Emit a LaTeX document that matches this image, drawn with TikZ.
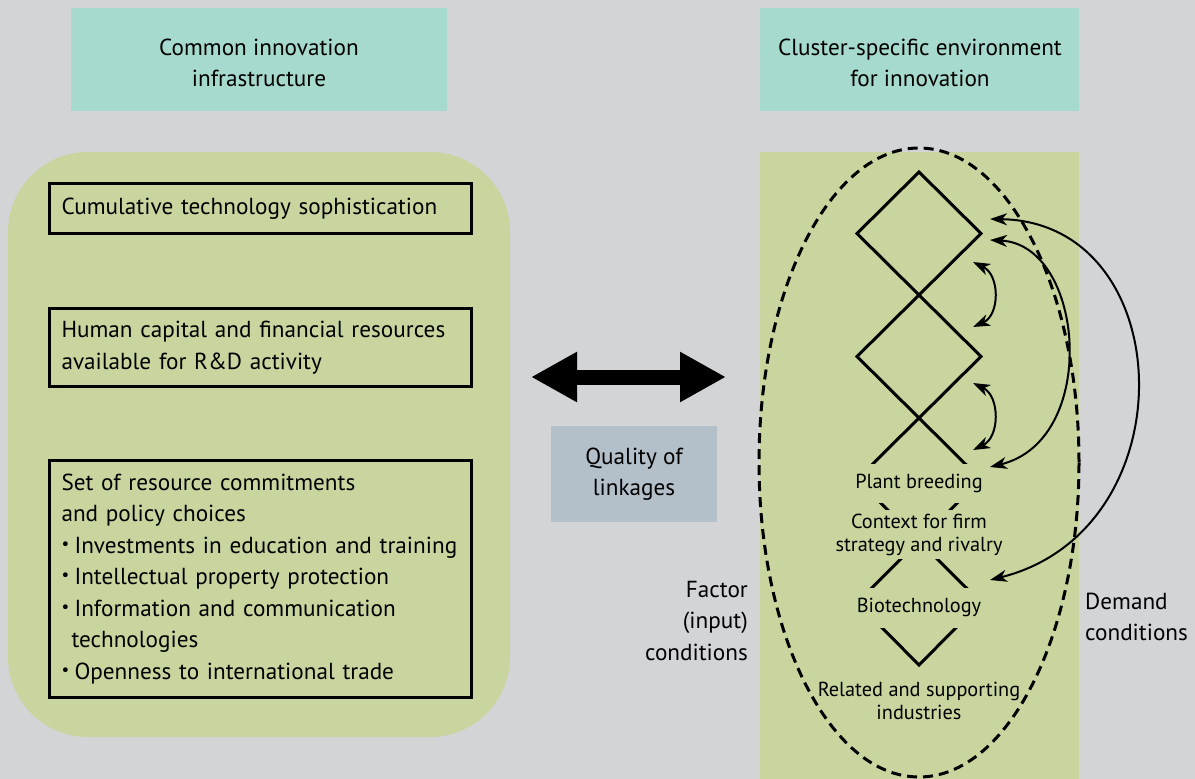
\documentclass[tikz,border=0pt]{standalone}
\usepackage{fontspec}
\setmainfont{PT Sans}
\usetikzlibrary{arrows.meta}

\definecolor{bggray}{RGB}{211,212,214}
\definecolor{leafgreen}{RGB}{200,213,158}
\definecolor{headteal}{RGB}{167,218,206}
\definecolor{linkgray}{RGB}{179,192,202}

\hyphenpenalty=10000
\exhyphenpenalty=10000
\newcommand{\dotitem}{\makebox[13pt][l]{\raisebox{4pt}{\fontsize{17}{17}\selectfont\textbullet}}}

\tikzset{
  factorbox/.style={draw, line width=3pt, anchor=north west, minimum width=422pt, text width=398pt, inner xsep=12pt, align=left},
  porter/.style={fill=leafgreen, inner xsep=4pt, inner ysep=0pt, align=center, font=\fontsize{20.3}{23}\selectfont},
  twoway/.style={line width=2pt, {Stealth[length=17pt,width=12pt,inset=5pt]}-{Stealth[length=17pt,width=12pt,inset=5pt]}}
}

\begin{document}
\begin{tikzpicture}[x=1pt, y=-1pt, every node/.style={font=\fontsize{23.2}{31.5}\selectfont}]
        % background
        \fill[bggray] (0, 0) rectangle (1195, 779);
        \useasboundingbox (0, 0) rectangle (1195, 779);
        % two headings
        \fill[headteal] (71, 8) rectangle (447, 111);
        \fill[headteal] (760, 8) rectangle (1079, 111);
        \node[align=center] (common) at (259, 63) {Common innovation\\infrastructure};
        \node[align=center] (cluster) at (920, 63) {Cluster-specific environment\\for innovation};
        % left panel
        \fill[leafgreen, rounded corners=80pt] (8, 152) rectangle (510, 737);
        \node[factorbox, minimum height=50pt] (cumul) at (48, 182) {Cumulative technology sophistication};
        \node[factorbox, minimum height=78pt] (human) at (48, 307) {Human capital and financial resources\\available for R\&D activity};
        \node[factorbox, minimum height=237pt] (policy) at (48, 459) {Set of resource commitments\\and policy choices\\
          \dotitem Investments in education and training\\
          \dotitem Intellectual property protection\\
          \dotitem Information and communication\\
          \hspace*{10pt}technologies\\
          \dotitem Openness to international trade};
        % right panel
        \fill[leafgreen] (760, 152) rectangle (1079, 779);
        % chain of diamonds
        \draw[line width=3pt] (919, 172) -- (857, 233.5) -- (919, 295) -- (981, 233.5) -- cycle;
        \draw[line width=3pt] (919, 295) -- (857, 356.5) -- (919, 418) -- (981, 356.5) -- cycle;
        \draw[line width=3pt] (919, 418) -- (857, 479.5) -- (919, 541) -- (981, 479.5) -- cycle;
        \draw[line width=3pt] (919, 541) -- (857, 602.5) -- (919, 665) -- (981, 602.5) -- cycle;
        % labels on the chain
        \node[porter, minimum height=39pt] (plant) at (919, 483.5) {Plant breeding};
        \node[porter, minimum height=49pt] (context) at (919, 534.5) {Context for firm\\strategy and rivalry};
        \node[porter, minimum height=40pt] (biotech) at (919, 607.5) {Biotechnology};
        \node[porter] (related) at (919, 701) {Related and supporting\\industries};
        % dashed cluster outline
        \draw[line width=3pt, dash pattern=on 10pt off 6pt] (919, 462.5) ellipse [x radius=160pt, y radius=314.5pt];
        % side labels
        \node[anchor=east, align=right, inner sep=0pt] (factor) at (748, 621) {Factor\\(input)\\conditions};
        \node[anchor=west, align=left, inner sep=0pt] (demand) at (1085, 617) {Demand\\conditions};
        % linkage
        \coordinate (linkL) at (531, 377);
        \coordinate (linkR) at (726, 377);
        \draw[line width=15pt, {Triangle[length=46pt,width=47pt]}-{Triangle[length=46pt,width=47pt]}] (linkL) -- (linkR);
        \node[fill=linkgray, minimum width=166pt, minimum height=96pt, align=center] (quality) at (634, 474) {Quality of\\linkages};
        % interaction arcs
        \coordinate (a1) at (973, 262);
        \coordinate (b1) at (973, 327);
        \coordinate (a2) at (973, 383);
        \coordinate (b2) at (973, 450);
        \coordinate (a3) at (990, 240);
        \coordinate (b3) at (990, 467);
        \coordinate (a4) at (990, 219);
        \coordinate (b4) at (990, 580);
        \draw[twoway] (a1) .. controls (1000, 275) and (1000, 315) .. (b1);
        \draw[twoway] (a2) .. controls (1000, 396) and (1000, 437) .. (b2);
        \draw[twoway] (a3) .. controls (1085, 245) and (1100, 440) .. (b3);
        \draw[twoway] (a4) .. controls (1180, 222) and (1190, 530) .. (b4);
\end{tikzpicture}
\end{document}
